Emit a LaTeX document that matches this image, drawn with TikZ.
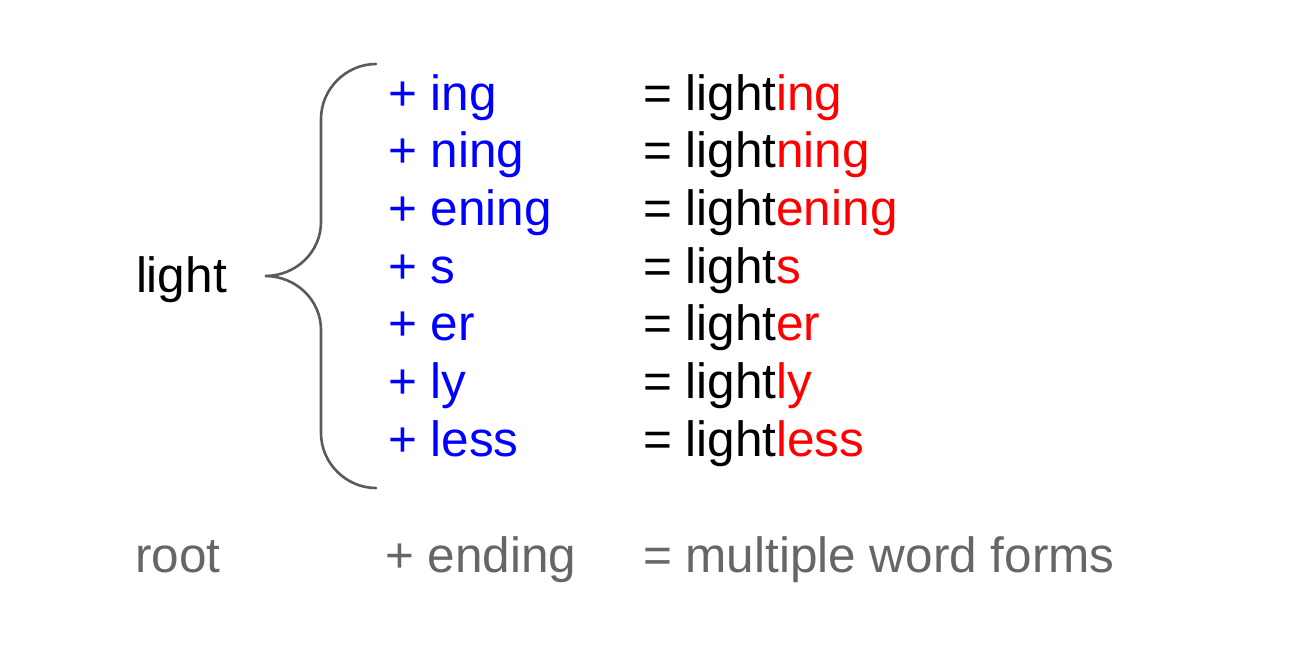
\documentclass[tikz,border=0pt]{standalone}
\usepackage{fontspec}
\setmainfont{Liberation Sans}
\definecolor{sufblue}{RGB}{0,0,255}
\definecolor{sufred}{RGB}{255,0,0}
\definecolor{capgray}{RGB}{102,102,102}
\definecolor{bracegray}{RGB}{90,90,90}
\begin{document}
\begin{tikzpicture}[x=1pt,y=-1pt,
  txt/.style={anchor=base west,inner sep=0pt,outer sep=0pt,font=\fontsize{49.5}{58}\selectfont},
  suffix/.style={txt,text=sufblue},
  result/.style={txt,text=black},
  caption/.style={txt,text=capgray},
  bracestyle/.style={draw=bracegray,line width=2.6pt,line cap=round}]
\useasboundingbox (0,0) rectangle (1300,654);
\node[txt] (root) at (136,292) {light};
\foreach \s [count=\i] in {ing,ning,ening,s,er,ly,less}{
  \pgfmathsetmacro{\yy}{110+57.7*(\i-1)}
  \node[suffix] (suf\i) at (388,\yy) {+ \s};
  \node[result] (res\i) at (643,\yy) {= light\textcolor{sufred}{\s}};
}
\node[caption] (c1) at (135,572) {root};
\node[caption] (c2) at (385,572) {+ ending};
\node[caption] (c3) at (643,572) {= multiple word forms};
\draw[bracestyle] (376,64) .. controls (346,64) and (321,89) .. (321,119)
  -- (321,222) .. controls (321,252) and (296,276) .. (265,276)
  .. controls (296,276) and (321,300) .. (321,330)
  -- (321,433) .. controls (321,463) and (346,488) .. (376,488);
\end{tikzpicture}
\end{document}
